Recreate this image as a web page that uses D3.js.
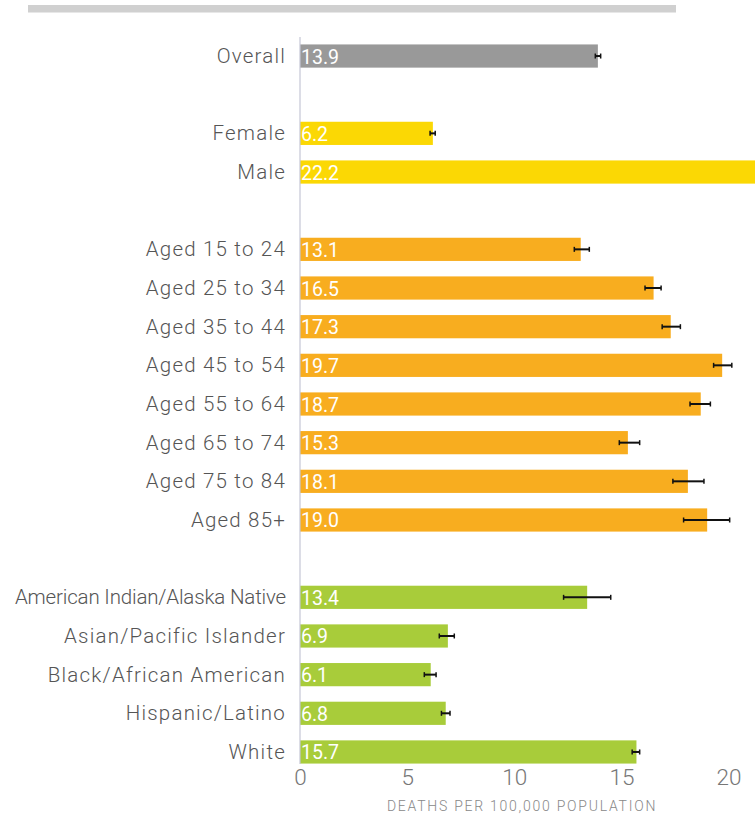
<!DOCTYPE html>
<html>
<head>
<meta charset="utf-8">
<script src="https://cdn.jsdelivr.net/npm/d3@7"></script>
<style>
  html, body { margin: 0; padding: 0; background: #fff; }
  svg { display: block; }
</style>
</head>
<body>
<svg id="chart" width="755" height="816"></svg>
<script>
// ---- data ----
const categories = ["Overall", "", "Female", "Male", " ",
  "Aged 15 to 24", "Aged 25 to 34", "Aged 35 to 44", "Aged 45 to 54",
  "Aged 55 to 64", "Aged 65 to 74", "Aged 75 to 84", "Aged 85+", "  ",
  "American Indian/Alaska Native", "Asian/Pacific Islander",
  "Black/African American", "Hispanic/Latino", "White"];
const values = [13.9, null, 6.2, 22.2, null,
  13.1, 16.5, 17.3, 19.7, 18.7, 15.3, 18.1, 19.0, null,
  13.4, 6.9, 6.1, 6.8, 15.7];
const errLow = [13.78, null, 6.07, null, null,
  12.8, 16.1, 16.9, 19.3, 18.2, 14.9, 17.4, 17.9, null,
  12.3, 6.5, 5.8, 6.6, 15.5];
const errHigh = [14.03, null, 6.31, null, null,
  13.5, 16.85, 17.75, 20.15, 19.15, 15.85, 18.85, 20.05, null,
  14.5, 7.2, 6.35, 7.0, 15.85];
const groups = ["overall", null, "sex", "sex", null,
  "age", "age", "age", "age", "age", "age", "age", "age", null,
  "race", "race", "race", "race", "race"];
const groupColors = { overall: "#999999", sex: "#FBD804", age: "#F8AD1F", race: "#A8CC3A" };
const xTicks = [0, 5, 10, 15, 20];
const axisTitle = "DEATHS PER 100,000 POPULATION";

// ---- layout ----
const svg = d3.select("#chart");
const x = d3.scaleLinear().domain([0, 20]).range([300, 728.6]);
const y = d3.scaleBand().domain(categories).range([36.7, 771.3]).paddingInner(0.4).paddingOuter(0.2);
const font = "Roboto, 'Open Sans', sans-serif";

const rows = categories.map((c, i) => ({ c, v: values[i], lo: errLow[i], hi: errHigh[i], g: groups[i] }))
  .filter(d => d.v !== null);

// top gray rule
svg.append("rect").attr("x", 28).attr("y", 5).attr("width", 648).attr("height", 7.5).attr("fill", "#d0d0d0");

// bars
svg.append("g").selectAll("rect").data(rows).join("rect")
  .attr("x", x(0)).attr("y", d => y(d.c))
  .attr("width", d => x(d.v) - x(0)).attr("height", y.bandwidth())
  .attr("fill", d => groupColors[d.g]);

// axis line (vertical at 0)
svg.append("line").attr("x1", x(0)).attr("x2", x(0)).attr("y1", 37).attr("y2", 764)
  .attr("stroke", "#c5c6d6").attr("stroke-width", 1.2);

// value labels
svg.append("g").selectAll("text").data(rows).join("text")
  .attr("x", x(0) + 1).attr("y", d => y(d.c) + y.bandwidth() / 2 + 7.5)
  .attr("fill", "#fff").attr("font-family", font)
  .attr("font-size", 19.5).attr("font-weight", 400)
  .text(d => d.v.toFixed(1));

// category labels (tighten spacing when a label would not fit)
const maxLabel = 271;
const baseSpacing = 1.2;
svg.append("g").selectAll("text").data(rows).join("text")
  .attr("x", 286).attr("y", d => y(d.c) + y.bandwidth() / 2 + 7)
  .attr("text-anchor", "end").attr("fill", "#555")
  .attr("font-family", font).attr("font-weight", 300)
  .attr("font-size", 20.5).attr("letter-spacing", baseSpacing)
  .text(d => d.c)
  .each(function (d) {
    const w = this.getComputedTextLength();
    if (w > maxLabel) {
      const ls = baseSpacing - (w - maxLabel) / d.c.length;
      d3.select(this).attr("letter-spacing", ls.toFixed(2));
    }
  });

// error bars
const eb = svg.append("g").selectAll("g").data(rows.filter(d => d.lo !== null)).join("g")
  .attr("transform", d => `translate(0,${y(d.c) + y.bandwidth() / 2})`);
eb.append("line").attr("x1", d => x(d.lo)).attr("x2", d => x(d.hi)).attr("y1", 0).attr("y2", 0)
  .attr("stroke", "#111").attr("stroke-width", 2);
eb.append("line").attr("x1", d => x(d.lo)).attr("x2", d => x(d.lo)).attr("y1", -2.5).attr("y2", 2.5)
  .attr("stroke", "#111").attr("stroke-width", 1.5);
eb.append("line").attr("x1", d => x(d.hi)).attr("x2", d => x(d.hi)).attr("y1", -2.5).attr("y2", 2.5)
  .attr("stroke", "#111").attr("stroke-width", 1.5);

// x axis ticks
const xAxis = d3.axisBottom(x).tickValues(xTicks).tickSize(0).tickPadding(0);
const ax = svg.append("g").attr("transform", "translate(0,764)").call(xAxis);
ax.select(".domain").remove();
ax.selectAll("text").attr("dy", "0.71em").attr("y", 5).attr("fill", "#777")
  .attr("font-family", font).attr("font-weight", 300).attr("font-size", 22.5);

// axis title
svg.append("text").attr("x", 522).attr("y", 811).attr("text-anchor", "middle")
  .attr("fill", "#888").attr("font-family", font).attr("font-weight", 300)
  .attr("font-size", 14).attr("letter-spacing", 1.75).text(axisTitle);
</script>
</body>
</html>
